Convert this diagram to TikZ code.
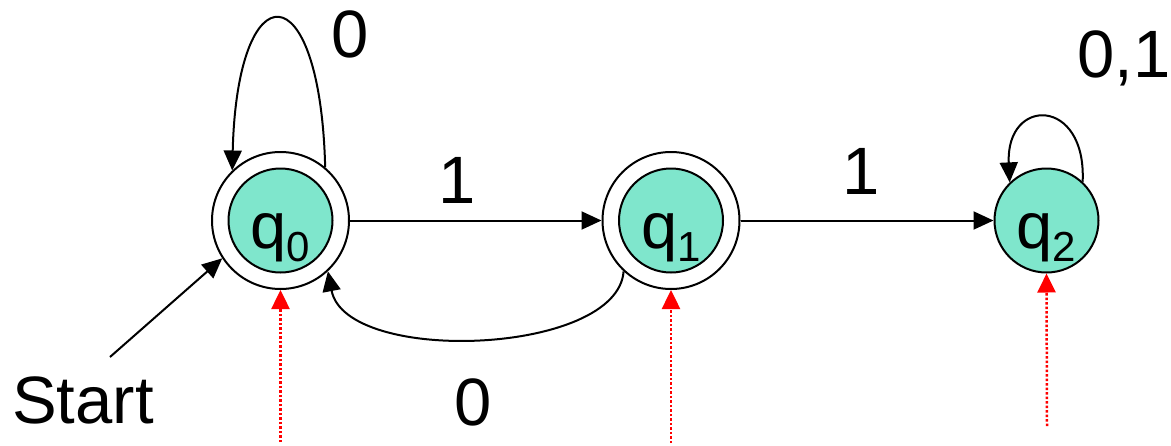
\documentclass[tikz,border=0pt]{standalone}
\usepackage{fontspec}
\setmainfont{Liberation Sans}
\usetikzlibrary{arrows.meta}
\definecolor{stfill}{HTML}{7FE6CC}
\definecolor{redarr}{RGB}{255,0,0}
\newcommand{\statelbl}[1]{\raisebox{-27.5pt}[0pt][0pt]{\fontsize{65pt}{78pt}\selectfont q\raisebox{-13pt}{\fontsize{42pt}{50pt}\selectfont #1}}}
\tikzset{
  outerst/.style={circle,draw,line width=2pt,minimum size=137pt,inner sep=0pt},
  innerst/.style={circle,draw,line width=2pt,fill=stfill,minimum size=104pt,inner sep=0pt},
  trans/.style={line width=2pt,-{Triangle[length=20pt,width=18pt]}},
  reddot/.style={line width=2.5pt,redarr,dash pattern=on 2.5pt off 2pt,-{Triangle[length=19pt,width=18pt]}},
  lbl/.style={inner sep=0pt,anchor=base,font=\fontsize{67pt}{80pt}\selectfont}
}
\begin{document}
\begin{tikzpicture}[x=1pt,y=-1pt]
\useasboundingbox (0,0) rectangle (1171,445);
% states
\node[outerst] (q0o) at (280.5,220.5) {};
\node[innerst] (q0) at (280.5,220.5) {\statelbl{0}};
\node[outerst] (q1o) at (671,220.5) {};
\node[innerst] (q1) at (671,220.5) {\statelbl{1}};
\node[innerst] (q2) at (1046.5,220.5) {\statelbl{2}};
% transitions
\draw[trans] (q0o.50) .. controls +(-5,-198) and +(5,-201) .. (q0o.134);
\draw[trans] (q0o.east) -- (q1o.west);
\draw[trans] (q1o.east) -- (q2.west);
\draw[trans] (q1o.227) .. controls +(-6,84) and +(18,94) .. (q0o.-47);
\draw[trans] (q2.47) .. controls +(4,-85) and +(-4,-86) .. (q2.134);
% start
\coordinate (st) at (110,357);
\draw[trans] (st) -- (q0o.213);
\node[inner sep=0pt,anchor=base west,font=\fontsize{67pt}{80pt}\selectfont] (start) at (12,423) {Start};
% labels
\node[lbl] (l00) at (350,57) {0};
\node[lbl] (l01) at (457.5,203) {1};
\node[lbl] (l12) at (861.5,194) {1};
\node[lbl] (l10) at (473,425) {0};
\node[lbl,anchor=base west] (l22) at (1077,77) {0,1};
% red pointers
\coordinate (r0) at (280.5,442);
\coordinate (r1) at (671,443);
\coordinate (r2) at (1047,426);
\draw[reddot] (r0) -- (q0o.south);
\draw[reddot] (r1) -- (q1o.south);
\draw[reddot] (r2) -- (q2.south);
\end{tikzpicture}
\end{document}
